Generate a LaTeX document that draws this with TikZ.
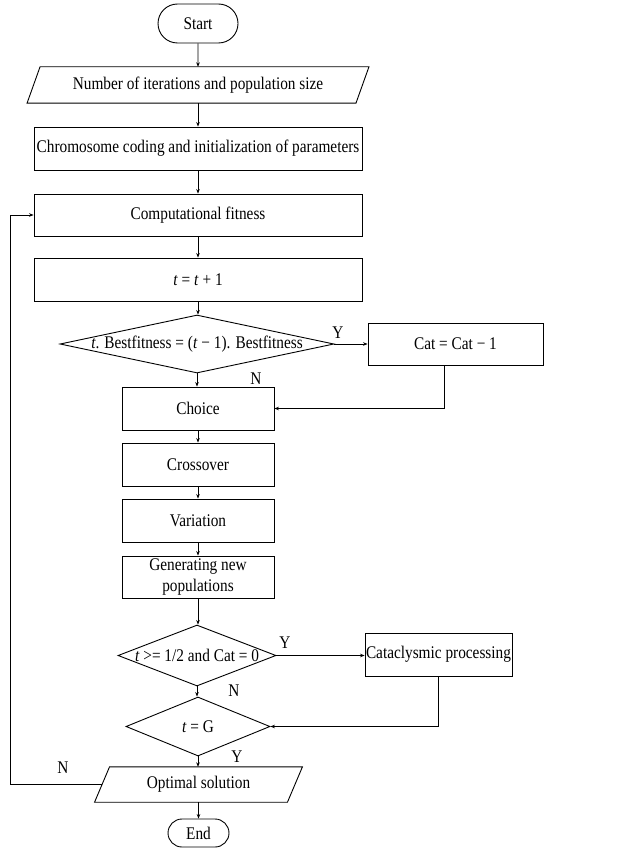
\documentclass[tikz,border=0pt]{standalone}
\usepackage{fontspec}
\setmainfont[FakeStretch=0.86]{Liberation Serif}
\usetikzlibrary{shapes.geometric,shapes.misc,arrows.meta,calc}
\begin{document}
\begin{tikzpicture}[x=1pt,y=-1pt,
  every node/.style={font=\fontsize{17.8}{21}\selectfont},
  box/.style={draw,line width=0.9pt,rectangle,inner sep=0pt,align=center},
  term/.style={draw,line width=0.9pt,rounded rectangle,inner sep=0pt},
  io/.style={rectangle,inner sep=0pt},
  dia/.style={draw,line width=0.9pt,diamond,inner sep=0pt},
  txt/.style={inner sep=0pt},
  lbl/.style={inner sep=0pt},
  arr/.style={line width=0.9pt,-{Stealth[length=4.5pt,width=3.6pt]}},
  ln/.style={line width=0.9pt}]
\useasboundingbox (0,0) rectangle (640,848);

\node[term,minimum width=80,minimum height=39] (start) at (198,23.5) {Start};

\node[io,minimum width=328.5,minimum height=36] (in1) at (198,85) {Number of iterations and population size};
\draw[ln] ([xshift=-6.5pt]in1.south west) -- ([xshift=6.5pt]in1.north west) -- ([xshift=6.5pt]in1.north east) -- ([xshift=-6.5pt]in1.south east) -- cycle;

\node[box,minimum width=328,minimum height=43] (init) at (198,148.5) {Chromosome coding and initialization of parameters};
\node[box,minimum width=328,minimum height=42] (fit) at (198,215) {Computational fitness};
\node[box,minimum width=328,minimum height=43] (inc) at (198,279.5) {\textit{t} = \textit{t} + 1};

\node[dia,minimum width=274,minimum height=58] (d1) at (197,344) {};
\node[txt] at (d1) {\textit{t}. Bestfitness = (\textit{t} − 1). Bestfitness};

\node[box,minimum width=175,minimum height=42] (cat) at (455.5,344) {Cat = Cat − 1};

\node[box,minimum width=152,minimum height=43] (choice) at (198,408.5) {Choice};
\node[box,minimum width=152,minimum height=43] (cross) at (198,464.5) {Crossover};
\node[box,minimum width=152,minimum height=43] (var) at (198,520.5) {Variation};
\node[box,minimum width=152,minimum height=42] (gen) at (198,577) {Generating new\\[0pt]populations};

\node[dia,minimum width=158,minimum height=61] (d2) at (197,655.5) {};
\node[txt] at (d2) {\textit{t} >= 1/2 and Cat = 0};

\node[box,minimum width=147,minimum height=43] (cata) at (438.5,654.5) {Cataclysmic processing};

\node[dia,minimum width=144,minimum height=59] (d3) at (198,726.5) {};
\node[txt] at (d3) {\textit{t} = G};

\node[io,minimum width=192.5,minimum height=35] (opt) at (198.5,784.5) {Optimal solution};
\draw[ln] ([xshift=-7.5pt]opt.south west) -- ([xshift=7.5pt]opt.north west) -- ([xshift=7.5pt]opt.north east) -- ([xshift=-7.5pt]opt.south east) -- cycle;

\node[term,minimum width=61,minimum height=28] (end) at (198.5,833) {End};

% connectors
\draw[arr] (start) -- (start |- in1.north);
\draw[arr] (in1.south) -- (init.north);
\draw[arr] (init) -- (fit);
\draw[arr] (fit) -- (inc);
\draw[arr] (inc.south) -- (inc.south |- d1.north);
\draw[arr] (d1.east) -- (cat.west);
\draw[arr] (d1.south) -- (d1.south |- choice.north);
\coordinate (catdown) at ([xshift=-11.5pt]cat.south);
\draw[arr] (catdown) |- (choice.east);
\draw[arr] (choice) -- (cross);
\draw[arr] (cross) -- (var);
\draw[arr] (var) -- (gen);
\draw[arr] (gen.south) -- (gen.south |- d2.north);
\draw[arr] (d2.east) -- (d2.east -| cata.west);
\draw[arr] (d2.south) -- (d2.south |- d3.north);
\draw[arr] (cata.south) |- (d3.east);
\draw[arr] (d3.south) -- (d3.south |- opt.north);
\coordinate (loop) at (10,784.5);
\draw[ln] (opt.west) -- (loop);
\draw[arr] (loop) |- (fit.west);
\draw[arr] (opt.south) -- (opt.south |- end.north);

% labels
\node[lbl] at (338,333) {Y};
\node[lbl] at (256,379) {N};
\node[lbl] at (285,643) {Y};
\node[lbl] at (234,691) {N};
\node[lbl] at (237,757) {Y};
\node[lbl] at (63,768) {N};
\end{tikzpicture}
\end{document}
